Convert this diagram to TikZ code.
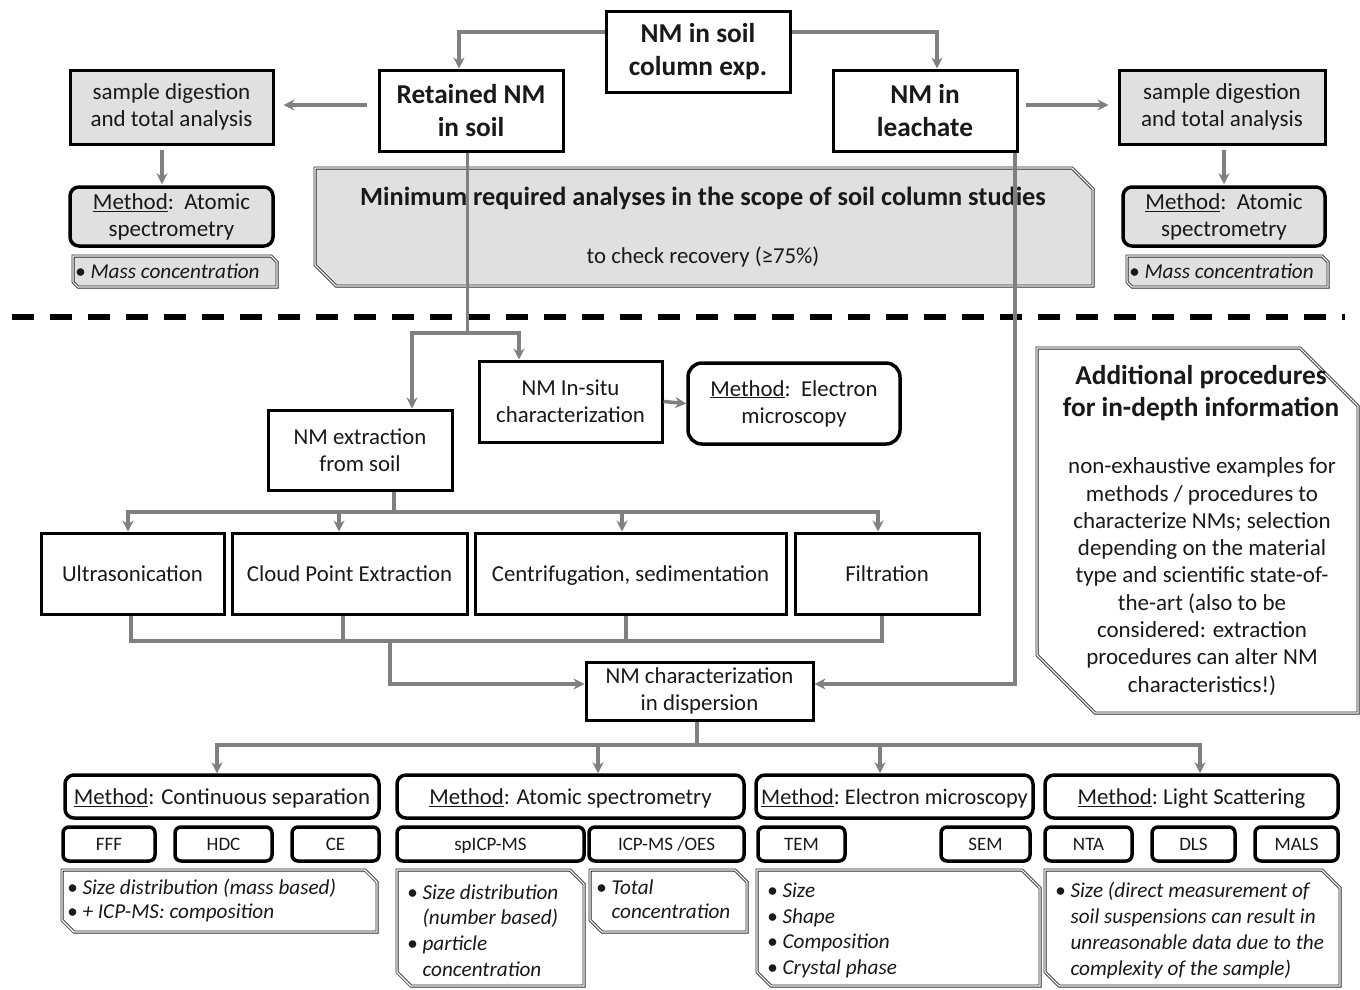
\documentclass[tikz,border=0pt]{standalone}
\usepackage{fontspec}
\setmainfont{Carlito}
\usetikzlibrary{arrows.meta,calc}
\definecolor{gr}{RGB}{128,128,128}
\definecolor{lg}{RGB}{224,224,224}
\definecolor{tx}{RGB}{25,25,25}
\newcommand\myfbold{\fontsize{27.3}{33}\selectfont\bfseries}
\newcommand\myfsd{\fontsize{23}{27}\selectfont}
\newcommand\myfmin{\fontsize{26.3}{27}\selectfont\bfseries}
\newcommand\myfmed{\fontsize{22.8}{27}\selectfont}
\newcommand\myfadd{\fontsize{27.3}{32}\selectfont\bfseries}
\newcommand\myfbody{\fontsize{23}{27.3}\selectfont}
\newcommand\myfsub{\fontsize{19}{20}\selectfont}
\newcommand\myfit{\fontsize{21.2}{25.7}\selectfont\itshape}
\newcommand\myfitb{\fontsize{21.2}{24}\selectfont\itshape}
\newcommand\mth{\underline{Method}}
\newcommand\hb{\phantom{• }}
\newcommand\chbox[7][]{\draw[dbl,#1] (#2,#3) -- ({#4-#6},#3) -- (#4,{#3+#6}) -- (#4,#5) -- ({#2+#7},#5) -- (#2,{#5-#7}) -- cycle;}
\begin{document}
\begin{tikzpicture}[x=1pt,y=-1pt,
  bx/.style={draw=black, line width=3pt, fill=white, align=center, inner sep=0pt, text=tx},
  one/.style={text height=20.5pt, text depth=4.6pt},
  onesub/.style={text height=17pt, text depth=3.8pt},
  gbx/.style={bx, fill=lg},
  rbx/.style={bx, rounded corners=9pt, line width=3.5pt},
  sbx/.style={bx, onesub, rounded corners=6pt, line width=3.5pt, minimum height=34pt, font=\myfsub},
  dbl/.style={draw=black!85, line width=0.8pt, double=white, double distance=1.4pt, fill=white},
  txt/.style={inner sep=0pt, text=tx},
  ln/.style={draw=gr, line width=3.5pt},
  arr/.style={ln, -{Stealth[length=11pt,width=11pt]}}]
\useasboundingbox (0,0) rectangle (1360,989);
% ---------- top part ----------
\node[bx, minimum width=184pt, minimum height=81pt, font=\myfbold] (top) at (698,51.5) {NM in soil\\column exp.};
\node[bx, minimum width=184pt, minimum height=81pt, font=\myfbold] (ret) at (471,110.5) {Retained NM\\in soil};
\node[bx, minimum width=184pt, minimum height=81pt, font=\myfbold] (lea) at (925,110.5) {NM in\\leachate};
\node[gbx, minimum width=203pt, minimum height=74pt, font=\myfsd] (sdl) at (171.5,107) {sample digestion\\and total analysis};
\node[gbx, minimum width=206pt, minimum height=74pt, font=\myfsd] (sdr) at (1222,107) {sample digestion\\and total analysis};
\node[gbx, rounded corners=9pt, line width=3.5pt, minimum width=203pt, minimum height=59pt, font=\myfsd] (mal) at (171.5,216.5) {\mth:\ \ Atomic\\spectrometry};
\node[gbx, rounded corners=9pt, line width=3.5pt, minimum width=202pt, minimum height=59pt, font=\myfsd] (mar) at (1224,216.5) {\mth:\ \ Atomic\\spectrometry};
\chbox[fill=lg]{73}{256}{277}{287}{6}{5}
\node[txt, anchor=west, font=\myfit] (mcl) at (75,271.5) {• Mass concentration};
\chbox[fill=lg]{1127}{256}{1328}{287}{6}{5}
\node[txt, anchor=west, font=\myfit] (mcr) at (1129,271.5) {• Mass concentration};
\chbox[fill=lg]{315}{168}{1093}{286}{21}{21}
\node[txt, font=\myfmin] (mint) at (703,198) {Minimum required analyses in the scope of soil column studies};
\node[txt, font=\myfmed] (minr) at (703,257) {to check recovery (≥75\%)};
% dashed separator
\draw[black, line width=6pt, dash pattern=on 22pt off 16pt] (12,317) -- (1345,317);
% ---------- middle part ----------
\node[bx, minimum width=183pt, minimum height=81pt, font=\myfmed] (insitu) at (570.5,401.5) {NM In-situ\\characterization};
\node[rbx, minimum width=212pt, minimum height=81pt, font=\myfmed, rounded corners=14pt] (emm) at (794,403.5) {\mth:\ \ Electron\\microscopy};
\node[bx, minimum width=184pt, minimum height=80pt, font=\myfmed] (ext) at (360,450) {NM extraction\\from soil};
\node[bx, one, minimum width=183pt, minimum height=81pt, font=\myfmed] (ultra) at (132.5,573.5) {Ultrasonication};
\node[bx, one, minimum width=235pt, minimum height=81pt, font=\myfmed] (cpe) at (349.5,573.5) {Cloud Point Extraction};
\node[bx, one, minimum width=311pt, minimum height=81pt, font=\myfmed] (cent) at (630.5,573.5) {Centrifugation, sedimentation};
\node[bx, one, minimum width=184pt, minimum height=81pt, font=\myfmed] (filt) at (887,573.5) {Filtration};
\node[bx, minimum width=227pt, minimum height=58pt, font=\myfmed] (nmc) at (699.5,691) {NM characterization\\in dispersion};
% additional procedures
\chbox{1037}{348}{1358}{713}{58}{58}
\node[txt, align=center, font=\myfadd] (addh) at (1201,393) {Additional procedures\\for in-depth information};
\node[txt, align=center, font=\myfbody] (addb) at (1202,576.5) {non-exhaustive examples for\\methods / procedures to\\characterize NMs; selection\\depending on the material\\type and scientific state-of-\\the-art (also to be\\considered: extraction\\procedures can alter NM\\characteristics!)};
% ---------- bottom part ----------
\node[rbx, one, minimum width=314pt, minimum height=43pt, font=\myfmed] (m1) at (222,796.5) {\mth: Continuous separation};
\node[rbx, one, minimum width=347pt, minimum height=43pt, font=\myfmed] (m2) at (570.5,796.5) {\mth: Atomic spectrometry};
\node[rbx, one, minimum width=277pt, minimum height=43pt, font=\fontsize{22.3}{27}\selectfont] (m3) at (894.5,796.5) {\mth:\ Electron microscopy};
\node[rbx, one, minimum width=293pt, minimum height=43pt, font=\myfmed] (m4) at (1191.5,796.5) {\mth:\ Light Scattering};
\node[sbx, minimum width=92pt] (fff) at (109,844) {FFF};
\node[sbx, minimum width=97pt] (hdc) at (223.5,844) {HDC};
\node[sbx, minimum width=87pt] (ce) at (335.5,844) {CE};
\node[sbx, minimum width=187pt] (sp) at (490.5,844) {spICP-MS};
\node[sbx, minimum width=155pt] (oes) at (666.5,844) {ICP-MS /OES};
\node[sbx, minimum width=87pt] (tem) at (801.5,844) {TEM};
\node[sbx, minimum width=89pt] (sem) at (985.5,844) {SEM};
\node[sbx, minimum width=87pt] (nta) at (1088.5,844) {NTA};
\node[sbx, minimum width=83pt] (dls) at (1193.5,844) {DLS};
\node[sbx, minimum width=83pt] (mals) at (1296.5,844) {MALS};
\chbox{62}{870}{377}{932}{12}{12}
\node[txt, anchor=west, align=left, font=\myfitb] (b1) at (67,900) {• Size distribution (mass based)\\• + ICP-MS: composition};
\chbox{397}{870}{584}{986}{14}{14}
\node[txt, anchor=west, align=left, font=\myfit] (b2) at (407,930.5) {• Size distribution\\\hb(number based)\\• particle\\\hb concentration};
\chbox{590}{870}{747}{932}{12}{12}
\node[txt, anchor=west, align=left, font=\myfitb] (b3) at (596,899) {• Total\\\hb concentration};
\chbox{757}{870}{1040}{986}{18}{14}
\node[txt, anchor=west, align=left, font=\myfit] (b4) at (767,930.5) {• Size\\• Shape\\• Composition\\• Crystal phase};
\chbox{1045}{870}{1340}{986}{18}{14}
\node[txt, anchor=west, align=left, font=\myfit] (b5) at (1055,930.5) {• Size (direct measurement of\\\hb soil suspensions can result in\\\hb unreasonable data due to the\\\hb complexity of the sample)};
% ---------- connectors ----------
\coordinate (j1) at (467,333);
\coordinate (j2) at (394,512);
\coordinate (j3) at (390,641);
\coordinate (j4) at (697,745);
\draw[arr] ([yshift=19.5pt]top.west) -| ([xshift=-12pt]ret.north);
\draw[arr] ([yshift=19.5pt]top.east) -| ([xshift=12pt]lea.north);
\draw[arr] ([shift={(-11pt,5.5pt)}]ret.west) -- ([shift={(9pt,2pt)}]sdl.east);
\draw[arr] ([shift={(7pt,5.5pt)}]lea.east) -- ([shift={(-9pt,2pt)}]sdr.west);
\draw[arr] ([shift={(-9.5pt,-4pt)}]sdl.south) -- ([shift={(-9.5pt,1pt)}]mal.north);
\draw[arr] ([shift={(2pt,-4pt)}]sdr.south) -- ([shift={(0pt,1pt)}]mar.north);
\draw[ln, line width=3pt] ([xshift=-4pt]ret.south) -- (j1);
\draw[arr] (j1) -| ([xshift=52pt]ext.north);
\draw[arr] (j1) -| ([xshift=-51.5pt]insitu.north);
\draw[arr] (insitu.east) -- (emm.west);
\draw[ln] ([xshift=34pt]ext.south) -- (j2);
\draw[arr] (j2) -| ([xshift=-4.5pt]ultra.north);
\draw[arr] (j2) -| ([xshift=-10.5pt]cpe.north);
\draw[arr] (j2) -| ([xshift=-8.5pt]cent.north);
\draw[arr] (j2) -| ([xshift=-9pt]filt.north);
\draw[ln] ([xshift=-1.5pt]ultra.south) |- (j3);
\draw[ln] ([xshift=-6.5pt]cpe.south) |- (j3);
\draw[ln] ([xshift=-4.5pt]cent.south) |- (j3);
\draw[ln] ([xshift=-5pt]filt.south) |- (j3);
\draw[arr] (j3) |- ([yshift=7pt]nmc.west);
\draw[arr] ([xshift=90pt]lea.south) |- ([yshift=7pt]nmc.east);
\draw[ln] ([xshift=-2.5pt]nmc.south) -- (j4);
\draw[arr] (j4) -| ([xshift=-5pt]m1.north);
\draw[arr] (j4) -| ([xshift=27.5pt]m2.north);
\draw[arr] (j4) -| ([xshift=-14.5pt]m3.north);
\draw[arr] (j4) -| ([xshift=8.5pt]m4.north);
\end{tikzpicture}
\end{document}
